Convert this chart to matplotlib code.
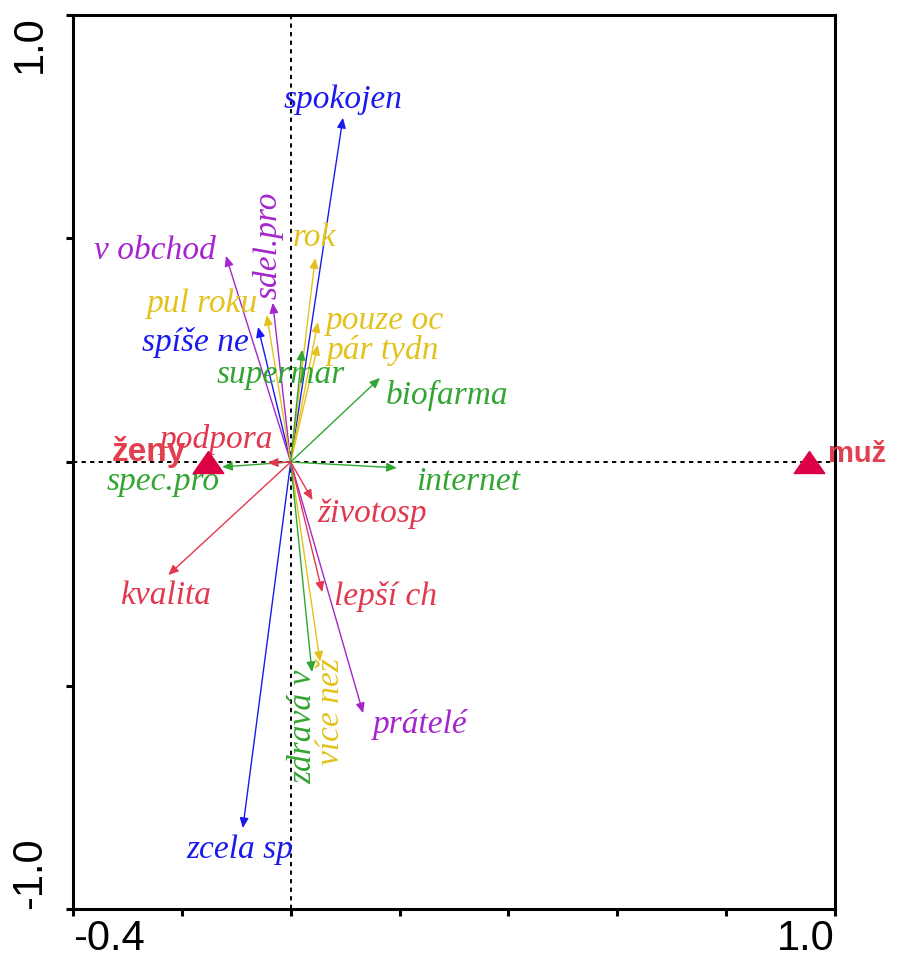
import matplotlib
matplotlib.use("Agg")
import matplotlib.pyplot as plt
from matplotlib.path import Path

# ---------------- data ----------------
labels = ["spokojen", "zcela sp", "spíše ne",
          "v obchod", "sdel.pro", "prátelé",
          "rok", "pul roku", "pouze oc", "pár tydn", "více než",
          "supermar", "biofarma", "internet", "spec.pro", "zdravá v",
          "podpora", "životosp", "kvalita", "lepší ch"]
xs = [0.096, -0.088, -0.060,
      -0.119, -0.033, 0.133,
      0.045, -0.044, 0.050, 0.050, 0.054,
      0.021, 0.164, 0.195, -0.126, 0.039,
      -0.042, 0.040, -0.225, 0.058]
ys = [0.770, -0.819, 0.302,
      0.461, 0.356, -0.562,
      0.456, 0.329, 0.313, 0.262, -0.447,
      0.251, 0.188, -0.013, -0.011, -0.470,
      -0.002, -0.085, -0.253, -0.291]
groups = ["blue", "blue", "blue",
          "purple", "purple", "purple",
          "yellow", "yellow", "yellow", "yellow", "yellow",
          "green", "green", "green", "green", "green",
          "red", "red", "red", "red"]

sample_names = ["ženy", "muž"]
sample_x = [-0.152, 0.952]
sample_y = [0.0, 0.0]

x_ticks = [-0.4, -0.2, 0.0, 0.2, 0.4, 0.6, 0.8, 1.0]
x_ticklabels = ["-0.4", "", "", "", "", "", "", "1.0"]
y_ticks = [-1.0, -0.5, 0.0, 0.5, 1.0]
y_ticklabels = ["-1.0", "", "", "", "1.0"]

# ---------------- styles / layout ----------------
colors = {"blue": "#1a1aee", "purple": "#a526cc", "yellow": "#e3c21e",
          "green": "#33a532", "red": "#e2384f"}
# label offsets from arrow tip in pixels (dx, dy), and rotation
label_layout = {
    "spokojen": (0, 18, 0), "zcela sp": (-3, -22, 0), "spíše ne": (-63, -15, 0),
    "v obchod": (-71, 5, 0), "sdel.pro": (-5, 58, 90), "prátelé": (57, -11, 0),
    "rok": (-1, 20, 0), "pul roku": (-64, 11, 0), "pouze oc": (67, 1, 0),
    "pár tydn": (65, -6, 0), "více než": (11, -50, 90),
    "supermar": (-21, -25, 0), "biofarma": (67, -18, 0), "internet": (71, -14, 0),
    "spec.pro": (-59, -15, 0), "zdravá v": (-9, -55, 90),
    "podpora": (-51, 23, 0), "životosp": (60, -14, 0), "kvalita": (-3, -21, 0),
    "lepší ch": (63, -4, 0),
}

fig = plt.figure(figsize=(9.02, 9.58), dpi=100)
ax = fig.add_axes([73 / 902, 1 - 909 / 958, (835 - 73) / 902, (909 - 15) / 958])
ax.set_xlim(-0.4, 1.0)
ax.set_ylim(-1.0, 1.0)

# zero lines
ax.axhline(0, color="black", lw=1.4, ls=(0, (2.2, 2.2)), zorder=1)
ax.axvline(0, color="black", lw=1.4, ls=(0, (2.2, 2.2)), zorder=1)

# arrows
for name, x, y, g in zip(labels, xs, ys, groups):
    c = colors[g]
    ax.annotate("", xy=(x, y), xytext=(0, 0),
                arrowprops=dict(arrowstyle="-|>,head_length=0.5,head_width=0.22",
                                color=c, lw=1.0, shrinkA=0, shrinkB=0,
                                mutation_scale=12), zorder=3)

for name, x, y, g in zip(labels, xs, ys, groups):
    dx, dy, rot = label_layout[name]
    ax.annotate(name, xy=(x, y), xytext=(dx, dy), textcoords="offset pixels",
                ha="center", va="center", rotation=rot, color=colors[g],
                fontsize=24, fontstyle="italic", family="Liberation Serif",
                zorder=4)

# sample triangles
tri = Path([(-1, -0.72), (1, -0.72), (0, 0.72), (-1, -0.72)],
           [Path.MOVETO, Path.LINETO, Path.LINETO, Path.CLOSEPOLY])
ax.plot(sample_x, sample_y, linestyle="none", marker=tri, markersize=22,
        color="#dc0045", zorder=5, clip_on=False)
ax.annotate(sample_names[0], xy=(sample_x[0], sample_y[0]), xytext=(-22, 1),
            textcoords="offset pixels", ha="right", va="baseline",
            color="#e2404e", fontsize=24, fontweight="bold",
            family="Liberation Sans", zorder=6)
ax.annotate(sample_names[1], xy=(sample_x[1], sample_y[1]), xytext=(19, 0),
            textcoords="offset pixels", ha="left", va="baseline",
            color="#e2404e", fontsize=21, fontweight="bold",
            family="Liberation Sans", zorder=6, annotation_clip=False)

# axes styling
for sp in ax.spines.values():
    sp.set_linewidth(2.2)
ax.set_xticks(x_ticks)
ax.set_xticklabels(x_ticklabels)
ax.set_yticks(y_ticks)
ax.set_yticklabels(y_ticklabels)
ax.tick_params(direction="out", length=5, width=2.2, labelsize=30, pad=2)
ax.tick_params(axis="y", pad=26)
for lab in ax.get_xticklabels():
    lab.set_family("Liberation Sans")
xl = ax.get_xticklabels()
xl[0].set_ha("left")
xl[-1].set_ha("right")
for lab in ax.get_yticklabels():
    lab.set_family("Liberation Sans")
    lab.set_rotation(90)
    lab.set_ha("center")
yl = ax.get_yticklabels()
yl[0].set_va("bottom")
yl[-1].set_va("top")

fig.savefig("out.png", dpi=100)
